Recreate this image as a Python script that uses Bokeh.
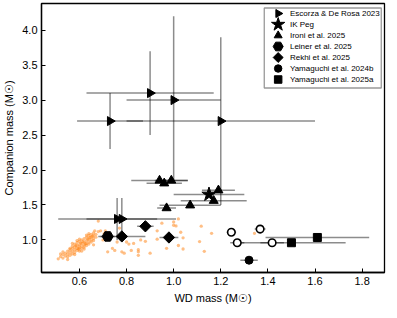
import numpy as np
from bokeh.plotting import figure
from bokeh.models import Range1d, FixedTicker, PrintfTickFormatter, Label
from bokeh.embed import file_html
from bokeh.resources import INLINE

# ---------------- data ----------------
esc_x = [0.73, 0.90, 1.00, 1.20, 0.76, 0.78]
esc_y = [2.70, 3.10, 3.00, 2.70, 1.30, 1.30]
esc_xerr = [0.14, 0.27, 0.20, 0.40, 0.25, 0.15]
esc_ylo = [0.40, 0.60, 1.15, 1.20, 0.30, 0.30]
esc_yhi = [0.40, 0.60, 1.20, 1.20, 0.30, 0.30]

ikpeg_x = [1.15]
ikpeg_y = [1.65]
ikpeg_xerr = [0.15]

ironi_x = [0.94, 0.96, 0.99, 0.97, 1.07, 1.19, 1.17]
ironi_y = [1.85, 1.81, 1.85, 1.455, 1.495, 1.71, 1.56]
ironi_xerr = [0.12, 0.075, 0.07, 0.04, 0.13, 0.07, 0.14]

leiner_x = [0.72]
leiner_y = [1.05]
leiner_xerr = [0.03]

rekhi_x = [0.78, 0.88, 0.98]
rekhi_y = [1.05, 1.195, 1.035]
rekhi_xerr = [0.10, 0.035, 0.04]

yam24_x = [1.32]
yam24_y = [0.71]
yam24_xerr = [0.037]

open_x = [1.245, 1.367, 1.27, 1.418]
open_y = [1.11, 1.155, 0.96, 0.96]
open_xerr = [0.02, 0.023, 0.03, 0.05]

yam25_x = [1.50, 1.61]
yam25_y = [0.96, 1.035]
yam25_xerr = [0.23, 0.22]

pop_x = [0.51, 0.52, 0.53, 0.53, 0.54, 0.54, 0.55, 0.55, 0.55, 0.56, 0.56, 0.56,
         0.57, 0.57, 0.57, 0.57, 0.58, 0.58, 0.58, 0.58, 0.59, 0.59, 0.59, 0.59,
         0.60, 0.60, 0.60, 0.60, 0.60, 0.61, 0.61, 0.61, 0.61, 0.62, 0.62, 0.62,
         0.62, 0.63, 0.63, 0.63, 0.63, 0.64, 0.64, 0.64, 0.64, 0.65, 0.65, 0.65,
         0.65, 0.66, 0.66, 0.66, 0.67, 0.67, 0.58, 0.56, 0.59, 0.61, 0.62, 0.60,
         0.64, 0.55, 0.53, 0.57, 0.63, 0.66, 0.52, 0.615, 0.585, 0.595, 0.605,
         0.625, 0.635, 0.645, 0.655,
         0.68, 0.665, 0.68, 0.69, 0.705, 0.71, 0.70, 0.72, 0.74, 0.75, 0.76, 0.77,
         0.78, 0.79, 0.80, 0.81, 0.83, 0.82, 0.85, 0.85, 0.85, 0.86, 0.88, 0.90,
         0.93, 0.95, 0.97, 1.00, 1.01, 1.03, 1.02, 1.04, 1.04, 1.117, 1.161, 1.11,
         1.13, 1.343, 0.93, 0.66, 1.02, 1.00]
pop_y = [0.73, 0.76, 0.74, 0.79, 0.81, 0.77, 0.84, 0.80, 0.76, 0.86, 0.82, 0.78,
         0.88, 0.84, 0.80, 0.91, 0.86, 0.90, 0.82, 0.94, 0.88, 0.92, 0.85, 0.96,
         0.90, 0.87, 0.93, 0.98, 0.84, 0.91, 0.95, 0.88, 1.00, 0.93, 0.97, 0.90,
         1.02, 0.95, 0.99, 0.92, 1.04, 0.97, 1.01, 1.06, 0.94, 1.00, 1.04, 1.08,
         0.97, 1.02, 1.06, 1.10, 1.04, 1.08, 0.79, 0.88, 0.99, 0.84, 0.87, 1.01,
         1.09, 0.72, 0.83, 0.95, 1.07, 0.99, 0.80, 0.975, 0.915, 0.875, 0.955,
         0.945, 1.015, 1.035, 1.055,
         1.27, 1.13, 1.12, 1.13, 1.09, 1.13, 1.00, 0.83, 0.88, 0.85, 0.97, 1.17,
         0.83, 0.81, 0.97, 0.94, 0.95, 0.85, 0.83, 0.78, 0.86, 1.00, 0.98, 0.81,
         1.01, 1.24, 0.88, 1.21, 1.20, 1.11, 0.92, 0.87, 1.03, 1.196, 1.094, 0.977,
         0.837, 1.094, 1.13, 0.93, 1.30, 1.257]

x_ticks = [0.6, 0.8, 1.0, 1.2, 1.4, 1.6, 1.8]
y_ticks = [1.0, 1.5, 2.0, 2.5, 3.0, 3.5, 4.0]

legend_labels = ["Escorza & De Rosa 2023", "IK Peg", "Ironi et al. 2025",
                 "Leiner et al. 2025", "Rekhi et al. 2025",
                 "Yamaguchi et al. 2024b", "Yamaguchi et al. 2025a"]

FONT = "Liberation Sans"
XMIN, XMAX = 0.439, 1.895
YMIN, YMAX = 0.534, 4.382
W, H = 389, 310
BL, BR, BT, BB = 34, 5, 3, 38
FW, FH = W - BL - BR, H - BT - BB

p = figure(width=W, height=H, output_backend="svg", toolbar_location=None,
           x_range=Range1d(XMIN, XMAX), y_range=Range1d(YMIN, YMAX),
           min_border_left=BL, min_border_right=BR, min_border_top=BT, min_border_bottom=BB)
p.grid.visible = False
p.outline_line_color = "black"
p.outline_line_width = 1.3
p.background_fill_color = "white"
p.border_fill_color = "white"

for ax in (p.xaxis[0], p.yaxis[0]):
    ax.axis_line_color = "black"
    ax.axis_line_width = 1.3
    ax.major_tick_in = 4
    ax.major_tick_out = 0
    ax.major_tick_line_color = "black"
    ax.minor_tick_line_color = None
    ax.major_label_text_font = FONT
    ax.major_label_text_font_size = "11px"
    ax.major_label_text_color = "black"
    ax.axis_label_text_font = FONT
    ax.axis_label_text_font_size = "11px"
    ax.axis_label_text_font_style = "normal"
    ax.axis_label_text_color = "black"
    ax.major_label_standoff = 4
    ax.axis_label_standoff = 4
    ax.formatter = PrintfTickFormatter(format="%.1f")

p.xaxis.ticker = FixedTicker(ticks=x_ticks)
p.yaxis.ticker = FixedTicker(ticks=y_ticks)
p.xaxis.axis_label = "WD mass (M☉)"
p.yaxis.axis_label = "Companion mass (M☉)"

# ---------- legend helpers (pixel offsets inside the frame -> data units) ----------
def fx(px):
    return XMIN + px / FW * (XMAX - XMIN)

def fy(py):
    return YMAX - py / FH * (YMAX - YMIN)

LB_W, LB_H, LB_R, LB_T, ROW = 117, 80, 4.5, 4.5, 11
lb_left = FW - LB_R - LB_W

# population scatter
p.scatter(pop_x, pop_y, marker="circle", size=3.3, fill_color="#ff7f0e", fill_alpha=0.5,
          line_color=None)

EB = dict(line_color="black", line_alpha=0.45, line_width=1.5)

def xbars(xs, ys, errs):
    x0 = [a - e for a, e in zip(xs, errs)]
    x1 = [a + e for a, e in zip(xs, errs)]
    p.segment(x0=x0, y0=ys, x1=x1, y1=ys, **EB)

def ybars(xs, ys, lo, hi):
    y0 = [a - e for a, e in zip(ys, lo)]
    y1 = [a + e for a, e in zip(ys, hi)]
    p.segment(x0=xs, y0=y0, x1=xs, y1=y1, **EB)

xbars(esc_x, esc_y, esc_xerr)
ybars(esc_x, esc_y, esc_ylo, esc_yhi)
xbars(ikpeg_x, ikpeg_y, ikpeg_xerr)
xbars(ironi_x, ironi_y, ironi_xerr)
xbars(leiner_x, leiner_y, leiner_xerr)
xbars(rekhi_x, rekhi_y, rekhi_xerr)
xbars(yam24_x, yam24_y, yam24_xerr)
xbars(open_x, open_y, open_xerr)
xbars(yam25_x, yam25_y, yam25_xerr)

STYLES = [
    dict(marker="triangle", angle=-np.pi / 2, size=9),
    dict(marker="star", size=15),
    dict(marker="triangle", size=9),
    dict(marker="hex", size=11),
    dict(marker="square", angle=np.pi / 4, size=8),
    dict(marker="circle", size=8),
    dict(marker="square", size=8),
]
LEG_SIZES = [8, 14, 8, 10, 7, 7.5, 7.5]
series = [(esc_x, esc_y), (ikpeg_x, ikpeg_y), (ironi_x, ironi_y), (leiner_x, leiner_y),
          (rekhi_x, rekhi_y), (yam24_x, yam24_y), (yam25_x, yam25_y)]
for (sx, sy), st in zip(series, STYLES):
    p.scatter(sx, sy, fill_color="black", line_color="black", **st)
p.scatter(open_x, open_y, marker="circle", size=7.5, fill_color="white", line_color="black",
          line_width=1.6)

# legend frame as a rect glyph in screen-sized units
p.rect(x=[fx(lb_left + LB_W / 2)], y=[fy(LB_T + LB_H / 2)], width=LB_W, height=LB_H,
       width_units="screen", height_units="screen",
       fill_color="white", fill_alpha=0.8, line_color="#999999", line_width=1.3)

leg_my = [fy(LB_T + 5.5 + ROW * i) for i in range(len(legend_labels))]
for i, (lab, st) in enumerate(zip(legend_labels, STYLES)):
    st2 = dict(st)
    st2["size"] = LEG_SIZES[i]
    p.scatter([fx(lb_left + 13)], [leg_my[i]], fill_color="black", line_color="black", **st2)
    p.add_layout(Label(x=fx(lb_left + 25), y=leg_my[i], text=lab, text_font=FONT,
                       text_font_size="8px", text_baseline="middle", text_color="black"))

open("out.html", "w").write(file_html(p, INLINE))
